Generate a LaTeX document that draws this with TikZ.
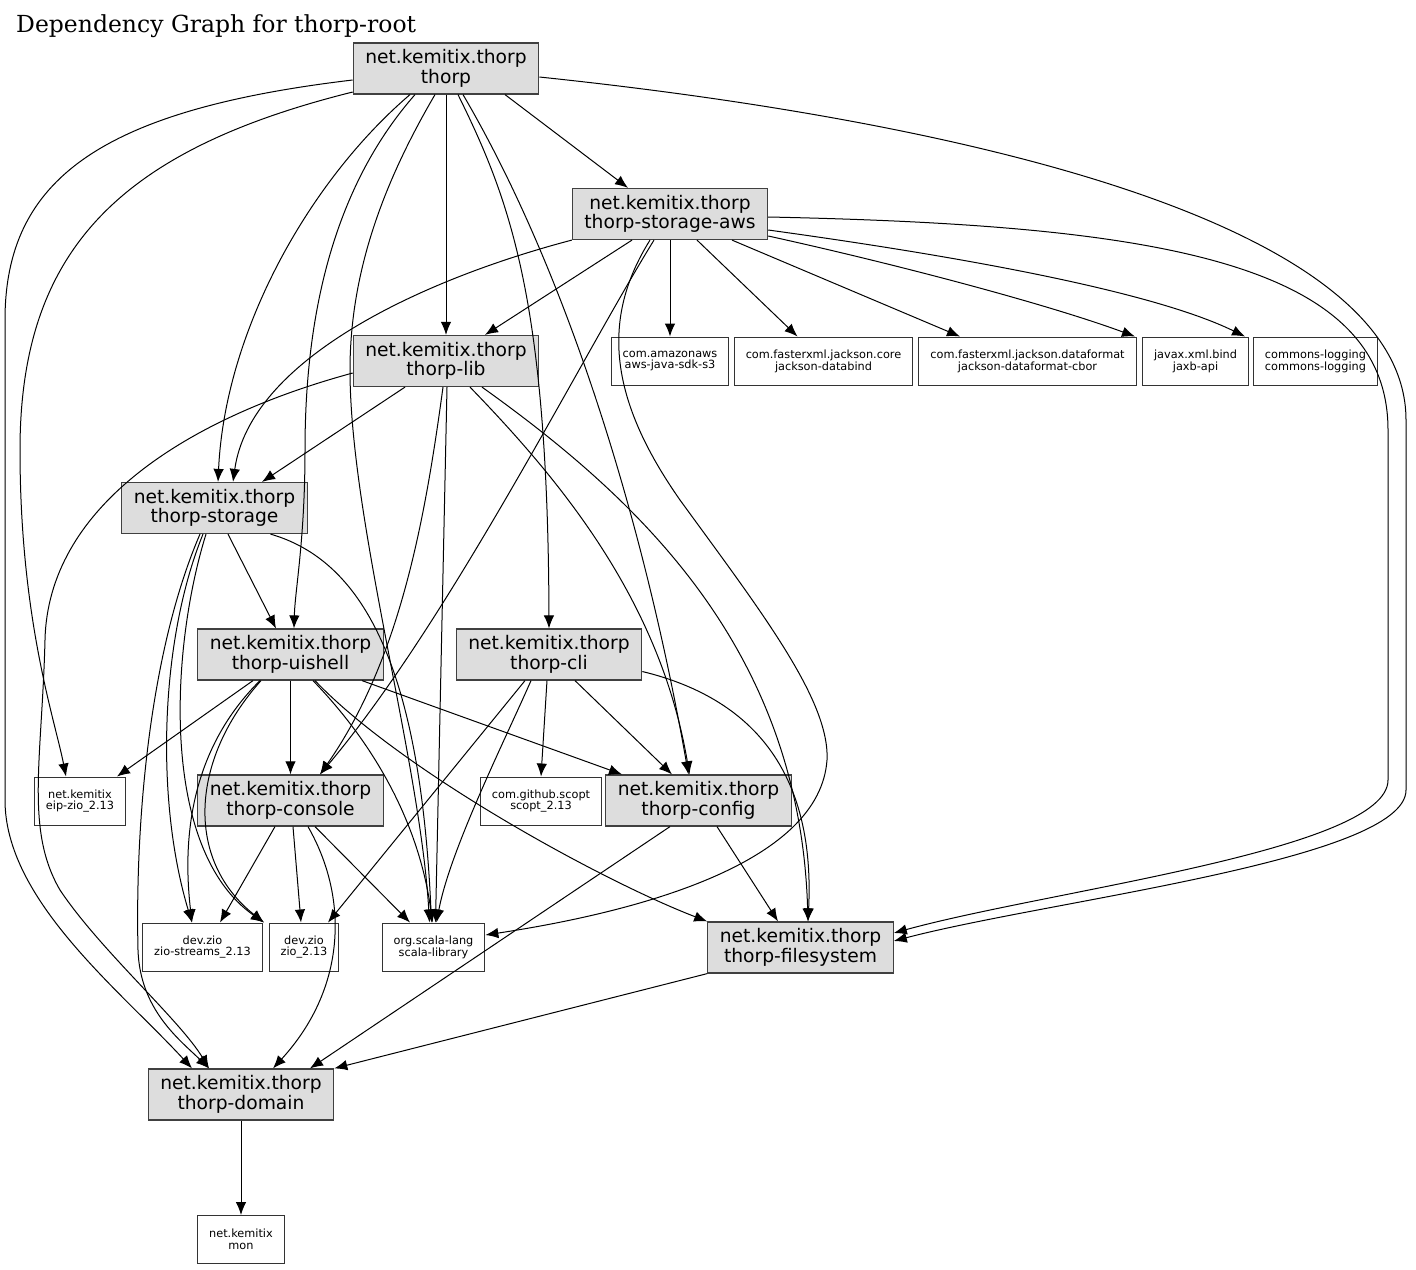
\documentclass[tikz,border=0pt]{standalone}
\usepackage{fontspec}
\usetikzlibrary{arrows.meta}
\newfontfamily\boxfont{DejaVu Sans}
\newfontfamily\titlefont{DejaVu Serif}
\definecolor{modgray}{HTML}{DDDDDD}
\begin{document}
\begin{tikzpicture}[x=1pt, y=-1pt,
  module/.style={draw=black!75, fill=modgray, line width=1.2pt, minimum height=51pt, inner xsep=12pt, inner ysep=0pt, align=center, font={\boxfont\fontsize{18.7}{19.5}\selectfont}},
  artifact/.style={draw=black!80, fill=white, line width=1pt, minimum height=48pt, inner xsep=11.5pt, inner ysep=0pt, align=center, font={\boxfont\fontsize{11.3}{11.8}\selectfont}},
  dep/.style={draw, line width=1pt, -{Latex[length=13pt,width=10.5pt]}}]

\path[use as bounding box, fill=white] (0,0) rectangle (1416,1269);

\node[anchor=base west, inner sep=0pt, font={\titlefont\fontsize{23.5}{28}\selectfont}] (title) at (16,32) {Dependency Graph for thorp-root};

\node[module] (thorp) at (446,68.5) {net.kemitix.thorp\\thorp};
\node[module] (aws) at (670,214) {net.kemitix.thorp\\thorp-storage-aws};
\node[artifact] (sdk) at (670,361) {com.amazonaws\\aws-java-sdk-s3};
\node[artifact] (databind) at (823.5,361) {com.fasterxml.jackson.core\\jackson-databind};
\node[artifact] (cbor) at (1027.5,361) {com.fasterxml.jackson.dataformat\\jackson-dataformat-cbor};
\node[artifact] (jaxb) at (1195.5,361) {javax.xml.bind\\jaxb-api};
\node[artifact] (logging) at (1315.5,361) {commons-logging\\commons-logging};
\node[module] (lib) at (446,361) {net.kemitix.thorp\\thorp-lib};
\node[module] (storage) at (214.5,508) {net.kemitix.thorp\\thorp-storage};
\node[module] (uishell) at (290.5,654.5) {net.kemitix.thorp\\thorp-uishell};
\node[module] (cli) at (549,654.5) {net.kemitix.thorp\\thorp-cli};
\node[artifact] (eip) at (80,801) {net.kemitix\\eip-zio\_2.13};
\node[module] (console) at (290.5,800.5) {net.kemitix.thorp\\thorp-console};
\node[artifact] (scopt) at (541,801) {com.github.scopt\\scopt\_2.13};
\node[module] (config) at (698.5,800.5) {net.kemitix.thorp\\thorp-config};
\node[artifact] (streams) at (202.5,947) {dev.zio\\zio-streams\_2.13};
\node[artifact] (zio) at (304,947) {dev.zio\\zio\_2.13};
\node[artifact] (scala) at (433.5,947) {org.scala-lang\\scala-library};
\node[module] (fs) at (800.5,947.5) {net.kemitix.thorp\\thorp-filesystem};
\node[module] (domain) at (241,1094.5) {net.kemitix.thorp\\thorp-domain};
\node[artifact] (mon) at (241,1239.5) {net.kemitix\\mon};

\draw[dep] ([xshift=59pt]thorp.south) -- ([xshift=-42pt]aws.north);
\draw[dep] (thorp.south) -- (lib.north);
\draw[dep] ([xshift=-36pt]thorp.south) .. controls (310,180) and (225,330) .. ([xshift=3.5pt]storage.north);
\draw[dep] ([xshift=-31pt]thorp.south) .. controls (340,180) and (305,300) .. (305,450) .. controls (305,540) and (295,590) .. ([xshift=3.5pt]uishell.north);
\draw[dep] ([xshift=-11pt]thorp.south) .. controls (385,180) and (350,270) .. (350,370) .. controls (350,520) and (420,760) .. ([xshift=-4pt]scala.north);
\draw[dep] ([xshift=12pt]thorp.south) .. controls (510,200) and (548,300) .. (cli.north);
\draw[dep] ([xshift=17pt]thorp.south) .. controls (560,260) and (640,500) .. ([xshift=-10pt]config.north);
\draw[dep] ([yshift=-8.5pt]thorp.east) .. controls (950,120) and (1406,220) .. (1406,420) -- (1406,790) .. controls (1406,860) and (1050,900) .. ([yshift=6.5pt]fs.east);
\draw[dep] ([yshift=-23.5pt]thorp.west) .. controls (120,150) and (20,250) .. (20,450) .. controls (20,620) and (55,720) .. ([xshift=-14pt]eip.north);
\draw[dep] ([yshift=-11.5pt]thorp.west) .. controls (100,110) and (5,180) .. (5,320) -- (5,800) .. controls (5,900) and (120,990) .. ([xshift=-49pt]domain.north);

\draw[dep] ([xshift=-38pt]aws.south) -- ([xshift=39pt]lib.north);
\draw[dep] (aws.south west) .. controls (420,280) and (250,360) .. ([xshift=18.5pt]storage.north);
\draw[dep] ([xshift=-16pt]aws.south) .. controls (580,360) and (450,620) .. ([xshift=29.5pt]console.north);
\draw[dep] ([xshift=-20pt]aws.south) .. controls (600,320) and (610,400) .. (680,500) .. controls (760,610) and (830,700) .. (827,760) .. controls (820,860) and (650,910) .. ([yshift=12pt]scala.east);
\draw[dep] (aws.south) -- (sdk.north);
\draw[dep] ([xshift=27pt]aws.south) -- ([xshift=-26pt]databind.north);
\draw[dep] ([xshift=62pt]aws.south) -- ([xshift=-67.5pt]cbor.north);
\draw[dep] ([yshift=-22pt]aws.east) .. controls (900,265) and (1050,305) .. ([xshift=-60.5pt]jaxb.north);
\draw[dep] ([yshift=-16pt]aws.east) .. controls (950,255) and (1150,290) .. ([xshift=-70.5pt]logging.north);
\draw[dep] ([yshift=-3pt]aws.east) .. controls (1150,225) and (1388,260) .. (1388,430) -- (1388,780) .. controls (1388,850) and (1050,890) .. ([yshift=14.5pt]fs.east);

\draw[dep] ([xshift=-41pt]lib.south) -- ([xshift=47.5pt]storage.north);
\draw[dep] ([xshift=-3pt]lib.south) .. controls (425,520) and (400,660) .. ([xshift=29.5pt]console.north);
\draw[dep] ([xshift=1pt]lib.south) -- ([xshift=2pt]scala.north);
\draw[dep] ([xshift=24pt]lib.south) .. controls (560,480) and (660,600) .. ([xshift=-9pt]config.north);
\draw[dep] ([xshift=36pt]lib.south) .. controls (640,500) and (800,650) .. ([xshift=7.5pt]fs.north);
\draw[dep] ([yshift=-12pt]lib.west) .. controls (180,420) and (48,510) .. (45,640) .. controls (42,760) and (25,830) .. (60,890) .. controls (100,950) and (180,1020) .. ([xshift=-32pt]domain.north);

\draw[dep] ([xshift=13.5pt]storage.south) -- ([xshift=-14.5pt]uishell.north);
\draw[dep] ([xshift=56pt]storage.south) .. controls (360,560) and (420,660) .. ([xshift=-2pt]scala.north);
\draw[dep] ([xshift=-14.5pt]storage.south) .. controls (150,650) and (135,820) .. (138,950) .. controls (140,1010) and (180,1040) .. ([xshift=-32pt]domain.north);
\draw[dep] ([xshift=-11.5pt]storage.south) .. controls (160,640) and (155,800) .. ([xshift=-10.5pt]streams.north);
\draw[dep] ([xshift=-8.5pt]storage.south) .. controls (170,650) and (160,850) .. ([xshift=-40pt]zio.north);

\draw[dep] ([xshift=-37.5pt]uishell.south) -- ([xshift=37pt]eip.north);
\draw[dep] (uishell.south) -- (console.north);
\draw[dep] ([xshift=-30.5pt]uishell.south) .. controls (200,740) and (180,820) .. ([xshift=-10.5pt]streams.north);
\draw[dep] ([xshift=-29.5pt]uishell.south) .. controls (190,760) and (185,860) .. ([xshift=-40pt]zio.north);
\draw[dep] ([xshift=22.5pt]uishell.south) .. controls (380,750) and (420,830) .. ([xshift=-1pt]scala.north);
\draw[dep] ([xshift=24.5pt]uishell.south) .. controls (400,770) and (600,880) .. (fs.north west);
\draw[dep] ([xshift=71.5pt]uishell.south) -- ([xshift=-76.5pt]config.north);

\draw[dep] ([xshift=-24pt]cli.south) -- ([xshift=24pt]zio.north);
\draw[dep] ([xshift=-18pt]cli.south) .. controls (505,740) and (450,850) .. ([xshift=3pt]scala.north);
\draw[dep] ([xshift=-2pt]cli.south) -- (scopt.north);
\draw[dep] ([xshift=26pt]cli.south) -- ([xshift=-26.5pt]config.north);
\draw[dep] ([yshift=-17pt]cli.east) .. controls (760,700) and (815,780) .. ([xshift=7.5pt]fs.north);

\draw[dep] ([xshift=-15.5pt]console.south) -- ([xshift=17.5pt]streams.north);
\draw[dep] ([xshift=2.5pt]console.south) -- ([xshift=-3pt]zio.north);
\draw[dep] ([xshift=24.5pt]console.south) -- ([xshift=-23.5pt]scala.north);
\draw[dep] ([xshift=17.5pt]console.south) .. controls (350,900) and (345,990) .. ([xshift=32pt]domain.north);

\draw[dep] ([xshift=18.5pt]config.south) -- ([xshift=-22.5pt]fs.north);
\draw[dep] ([xshift=-28.5pt]config.south) -- ([xshift=69pt]domain.north);
\draw[dep] (fs.south west) -- (domain.north east);
\draw[dep] (domain.south) -- (mon.north);

\end{tikzpicture}
\end{document}
